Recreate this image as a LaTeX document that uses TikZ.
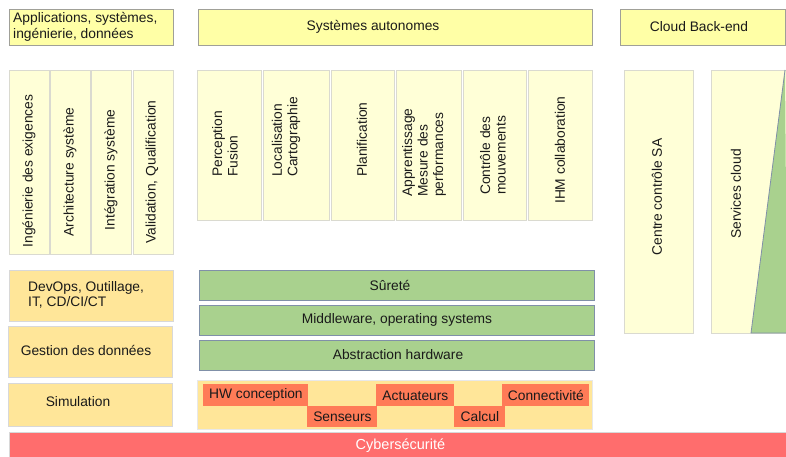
\documentclass[tikz,border=0pt]{standalone}
\usepackage{fontspec}
\setmainfont{Liberation Sans}
\definecolor{hdrfill}{HTML}{FFFFA6}
\definecolor{hdrline}{HTML}{A0A098}
\definecolor{colfill}{HTML}{FFFFD7}
\definecolor{colline}{HTML}{DADAD0}
\definecolor{goldfill}{HTML}{FFE699}
\definecolor{goldline}{HTML}{D8D8D8}
\definecolor{greenfill}{HTML}{A9D18E}
\definecolor{greenline}{HTML}{8090A8}
\definecolor{orangefill}{HTML}{FF7B57}
\definecolor{redfill}{HTML}{FF6D6D}
\definecolor{ink}{HTML}{1A1A1A}
\begin{document}
\begin{tikzpicture}[x=1pt,y=-1pt,
  every node/.style={font=\fontsize{13.8}{15.5}\selectfont, text=ink},
  box/.style={rectangle, inner sep=0pt, anchor=north west, line width=0.8pt},
  hdr/.style={box, fill=hdrfill, draw=hdrline},
  col/.style={box, fill=colfill, draw=colline},
  gold/.style={box, fill=goldfill, draw=goldline},
  layer/.style={box, fill=greenfill, draw=greenline},
  part/.style={box, fill=orangefill},
  label/.style={inner sep=0pt},
  vlabel/.style={inner sep=0pt, rotate=90, align=left},
]
\useasboundingbox (0,0) rectangle (786,457);

% headers
\node[hdr, minimum width=164pt, minimum height=36pt] (app) at (9,9) {};
\node[hdr, minimum width=394pt, minimum height=36pt] (sys) at (198,9) {};
\node[hdr, minimum width=165pt, minimum height=36pt] (cloud) at (620,9) {};
\node[label, anchor=west, align=left] (appT) at (13,27) {Applications, systèmes,\\ingénierie, données};
\node[label] (sysT) at (373,27) {Systèmes autonomes};
\node[label] (cloudT) at (699,27) {Cloud Back-end};

% engineering columns
\node[col, minimum width=40pt, minimum height=184pt] (c1) at (9,70) {};
\node[col, minimum width=40pt, minimum height=184pt] (c2) at (50,70) {};
\node[col, minimum width=40pt, minimum height=184pt] (c3) at (91,70) {};
\node[col, minimum width=40pt, minimum height=184pt] (c4) at (133,70) {};
\node[vlabel] (c1T) at (29,171) {Ingénierie des exigences};
\node[vlabel] (c2T) at (70,172) {Architecture système};
\node[vlabel] (c3T) at (111,170) {Intégration système};
\node[vlabel] (c4T) at (152,172) {Validation, Qualification};

% autonomous system functions
\node[col, minimum width=64pt, minimum height=150pt] (m1) at (197,70) {};
\node[col, minimum width=66pt, minimum height=150pt] (m2) at (263,70) {};
\node[col, minimum width=63pt, minimum height=150pt] (m3) at (331,70) {};
\node[col, minimum width=65pt, minimum height=150pt] (m4) at (396,70) {};
\node[col, minimum width=63pt, minimum height=150pt] (m5) at (463,70) {};
\node[col, minimum width=64pt, minimum height=150pt] (m6) at (528,70) {};
\node[vlabel, anchor=west] (m1T) at (225,177) {Perception\\Fusion};
\node[vlabel, anchor=west] (m2T) at (286,177) {Localisation\\Cartographie};
\node[vlabel, anchor=west] (m3T) at (362,177) {Planification};
\node[vlabel, anchor=west] (m4T) at (424,197) {Apprentissage\\Mesure des\\performances};
\node[vlabel, anchor=west] (m5T) at (493,195) {Contrôle des\\mouvements};
\node[vlabel, anchor=west] (m6T) at (560,204) {IHM collaboration};

% cloud columns
\node[col, minimum width=69pt, minimum height=263pt] (r1) at (624,70) {};
\node[col, minimum width=76pt, minimum height=263pt] (r2) at (711,70) {};
\draw[fill=greenfill, draw=greenline, line width=0.8pt] (785,70) -- (751,333) -- (787,333);
\node[vlabel] (r1T) at (657,197) {Centre contrôle SA};
\node[vlabel] (r2T) at (736,194) {Services cloud};

% support activities
\node[gold, minimum width=164pt, minimum height=51pt] (devops) at (9,270) {};
\node[gold, minimum width=164pt, minimum height=51pt] (data) at (8,326) {};
\node[gold, minimum width=164pt, minimum height=43pt] (sim) at (8,383) {};
\node[label, anchor=west, align=left] (devopsT) at (28,295) {DevOps, Outillage,\\IT, CD/CI/CT};
\node[label] (dataT) at (86,350) {Gestion des données};
\node[label] (simT) at (78,402) {Simulation};

% software layers
\node[layer, minimum width=395pt, minimum height=30pt] (safe) at (199,270) {};
\node[layer, minimum width=395pt, minimum height=30pt] (mid) at (199,305) {};
\node[layer, minimum width=395pt, minimum height=30pt] (hal) at (199,340) {};
\node[label] (safeT) at (390,285) {Sûreté};
\node[label] (midT) at (397,320) {Middleware, operating systems};
\node[label] (halT) at (398,355) {Abstraction hardware};

% hardware
\node[box, fill=goldfill, draw=goldline!60, minimum width=395pt, minimum height=49pt] (hw) at (197,380) {};
\node[part, minimum width=105pt, minimum height=22pt] (hwc) at (203,384) {HW conception};
\node[part, minimum width=70pt, minimum height=21pt] (sens) at (307,406) {Senseurs};
\node[part, minimum width=78pt, minimum height=22pt] (act) at (376,384) {Actuateurs};
\node[part, minimum width=51pt, minimum height=21pt] (calc) at (454,406) {Calcul};
\node[part, minimum width=87pt, minimum height=22pt] (conn) at (502,384) {Connectivité};

% security band
\node[box, fill=redfill, draw=goldline, minimum width=778pt, minimum height=26pt, text=white, font=\fontsize{14.5}{16}\selectfont] (cyber) at (9,432) {\hspace*{4pt}Cybersécurité};
\end{tikzpicture}
\end{document}
